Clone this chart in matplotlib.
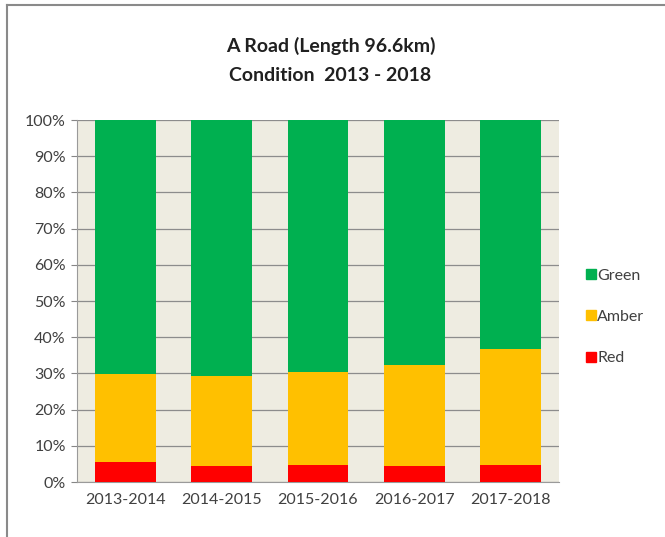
import numpy as np
import matplotlib; matplotlib.use("Agg")
import matplotlib.pyplot as plt
from matplotlib.lines import Line2D

plt.rcParams['font.family'] = ['Lato', 'DejaVu Sans']

years = ["2013-2014", "2014-2015", "2015-2016", "2016-2017", "2017-2018"]
red = [5.6, 4.5, 4.8, 4.5, 4.8]
amber = [24.3, 24.8, 25.6, 27.7, 32.0]
green = [70.1, 70.7, 69.6, 67.8, 63.2]

GREEN, AMBER, RED = "#00B050", "#FFC000", "#FF0000"

fig = plt.figure(figsize=(6.65, 5.37), dpi=100)
ax = fig.add_axes([0.1158, 0.1024, 0.7248, 0.674])
ax.set_facecolor("#EEECE1")

x = np.arange(len(years))
w = 0.63
r = np.array(red); a = np.array(amber); g = np.array(green)
ax.bar(x, r / 100, w, color=RED, label="Red", zorder=3)
ax.bar(x, a / 100, w, bottom=r / 100, color=AMBER, label="Amber", zorder=3)
ax.bar(x, g / 100, w, bottom=(r + a) / 100, color=GREEN, label="Green", zorder=3)

ax.set_xlim(-0.5, len(years) - 0.5)
ax.set_ylim(0, 1)
ax.set_yticks(np.arange(0, 1.01, 0.1))
ax.set_yticklabels([f"{int(round(v * 100))}%" for v in np.arange(0, 1.01, 0.1)])
ax.set_xticks(x)
ax.set_xticklabels(years)
ax.tick_params(axis="y", length=4, color="#868686", labelsize=11.5, labelcolor="#404040", pad=4)
ax.tick_params(axis="x", length=0, labelsize=11.5, labelcolor="#404040", pad=8)
ax.yaxis.grid(True, color="#8C8C8C", lw=0.9, zorder=1)
for s in ["top", "right"]:
    ax.spines[s].set_visible(False)
ax.spines["left"].set_color("#9A9A9A")
ax.spines["bottom"].set_color("#9A9A9A")

handles = [Line2D([], [], marker="s", ls="", color=c, markersize=6.5) for c in (GREEN, AMBER, RED)]
fig.legend(handles, ["Green", "Amber", "Red"], loc="center left", bbox_to_anchor=(0.862, 0.41),
           frameon=False, fontsize=11.5, labelspacing=1.7, handletextpad=-0.2, handlelength=1.2,
           borderpad=0, labelcolor="#404040")

fig.text(0.497, 0.915, "A Road (Length 96.6km)", ha="center", va="center", fontsize=14,
         fontweight="bold", color="#202020")
fig.text(0.497, 0.86, "Condition  2013 - 2018", ha="center", va="center", fontsize=14,
         fontweight="bold", color="#202020")

# outer chart frame
fig.add_artist(Line2D([0.0105, 1.0], [0.99, 0.99], color="#8A8A8A", lw=1.5, transform=fig.transFigure))
fig.add_artist(Line2D([0.0105, 0.0105], [0.0, 0.99], color="#8A8A8A", lw=1.5, transform=fig.transFigure))

fig.savefig("out.png", dpi=100)
